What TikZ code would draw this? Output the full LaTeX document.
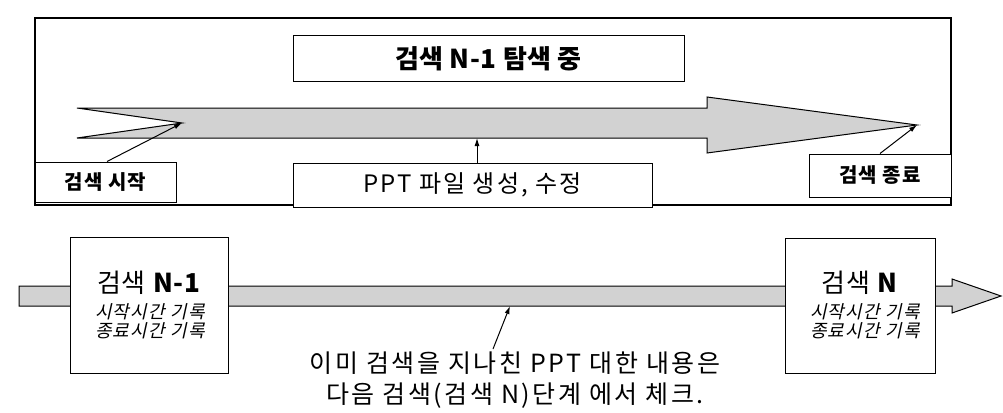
\documentclass[tikz,border=0pt]{standalone}
\usepackage{fontspec}
\setmainfont{Noto Sans CJK KR}
\newfontfamily\krit[FakeSlant=0.22]{Noto Sans CJK KR}
\usetikzlibrary{arrows.meta}
\begin{document}
\begin{tikzpicture}[x=1pt,y=-1pt,line join=miter]
\useasboundingbox (0,0) rectangle (1003,412);
\tikzset{
  box/.style={draw,line width=1pt,inner sep=0pt,fill=white},
  frame/.style={draw,line width=1.6pt,inner sep=0pt},
  arrowbody/.style={draw,line width=1pt,fill=gray!35},
  ptr/.style={line width=1pt,-{Latex[length=8pt,width=5pt]}},
  title/.style={font=\fontsize{26}{28}\selectfont\bfseries\addfontfeature{LetterSpace=2}},
  tag/.style={font=\fontsize{20}{22}\selectfont\bfseries\addfontfeature{LetterSpace=5}},
  plain/.style={font=\fontsize{24}{26}\selectfont\addfontfeature{LetterSpace=9}},
  big/.style={font=\fontsize{26}{28}\selectfont\addfontfeature{LetterSpace=3},inner sep=0pt},
  slant/.style={font=\krit\fontsize{18}{20}\selectfont\addfontfeature{LetterSpace=7},inner sep=0pt},
  note/.style={font=\fontsize{25}{31}\selectfont\addfontfeature{LetterSpace=10},inner sep=0pt},
}
% outer frame
\node[frame,minimum width=916pt,minimum height=187pt] (outer) at (493,111.5) {};
% big arrow
\coordinate (notch) at (182,123);
\coordinate (tip) at (917,125);
\coordinate (shaftbot) at (477,138);
\draw[arrowbody] (77,108) -- (707,108) -- (707,97) -- (tip) -- (707,153) -- (707,138) -- (77,138) -- (notch) -- cycle;
% labels
\node[box,minimum width=391pt,minimum height=45pt,title] (top) at (488.5,58.5) {검색 N-1 탐색 중};
\node[box,minimum width=141pt,minimum height=40pt,tag] (start) at (105.5,182) {검색 시작};
\node[box,minimum width=359pt,minimum height=44pt,plain] (ppt) at (472.5,185) {PPT 파일 생성, 수정};
\node[box,minimum width=142pt,minimum height=43pt,tag] (end) at (880,175.5) {검색 종료};
\draw[ptr] ([xshift=1.5pt]start.north) -- (notch);
\draw[ptr] (ppt.north -| shaftbot) -- (shaftbot);
\draw[ptr] (end.north) -- (tip);
% lower timeline
\draw[arrowbody] (19,286) -- (952,286) -- (952,279) -- (1001,296) -- (952,313) -- (952,306) -- (19,306) -- cycle;
\node[box,minimum width=158pt,minimum height=136pt] (n1) at (149,305) {};
\node[big] (n1a) at (149,283) {검색 \textbf{N-1}};
\node[slant] (n1b) at (150,312) {시작시간 기록};
\node[slant] (n1c) at (150,331) {종료시간 기록};
\node[box,minimum width=150pt,minimum height=135pt] (n) at (860,305.5) {};
\node[big] (na) at (860,283) {검색 \textbf{N}};
\node[slant] (nb) at (865,312) {시작시간 기록};
\node[slant] (nc) at (865,331) {종료시간 기록};
\node[note,anchor=north,align=center] (txt) at (515,352) {이미 검색을 지나친 PPT 대한 내용은\\다음 검색(검색 N)단계 에서 체크.};
\coordinate (hit) at (510,306);
\draw[ptr] (493,349) -- (hit);
\end{tikzpicture}
\end{document}
